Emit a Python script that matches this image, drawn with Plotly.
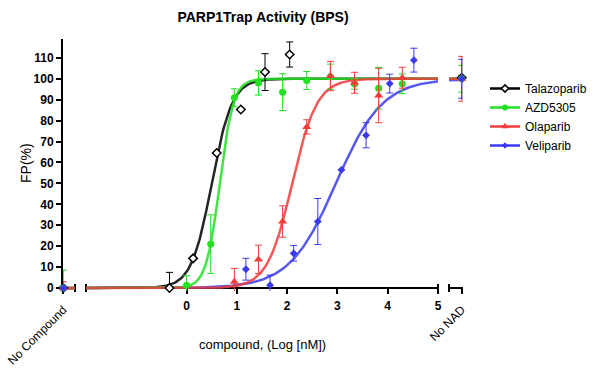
import numpy as np
import plotly.graph_objects as go

# ---------------- data ----------------
series_names = ["Talazoparib", "AZD5305", "Olaparib", "Veliparib"]

tal_x = [-0.34, 0.13, 0.60, 1.08, 1.56, 2.05]
tal_y = [0.0, 14.2, 64.5, 85.3, 103.2, 111.6]
tal_err = [7.5, 0.0, 0.0, 0.0, 8.8, 6.0]

azd_x = [0.00, 0.48, 0.95, 1.43, 1.91, 2.39, 2.86, 3.34, 3.82, 4.29]
azd_y = [1.4, 21.0, 90.9, 98.0, 93.6, 99.2, 101.0, 97.5, 95.5, 97.6]
azd_err = [4.5, 14.0, 4.3, 5.8, 8.8, 4.3, 6.0, 2.5, 10.0, 4.7]

ola_x = [0.95, 1.43, 1.91, 2.39, 2.86, 3.34, 3.82, 4.29]
ola_y = [3.0, 13.7, 31.8, 77.0, 101.3, 98.1, 92.0, 100.5]
ola_err = [6.4, 6.8, 7.5, 3.4, 7.0, 5.0, 13.0, 5.0]

vel_x = [1.18, 1.66, 2.13, 2.61, 3.08, 3.57, 4.04, 4.52]
vel_y = [9.0, 1.4, 16.6, 31.8, 56.5, 73.0, 97.7, 108.9]
vel_err = [5.2, 4.8, 3.7, 11.0, 0.0, 6.0, 4.5, 5.7]

# controls: "No Compound" and "No NAD"
no_compound_y = [0.0, 0.0, 0.0, 0.0]
no_compound_err = [0.0, 8.6, 3.0, 1.0]
no_nad_y = [100.5, 100.0, 100.0, 100.0]
no_nad_err = [1.0, 6.4, 10.7, 9.3]

# four-parameter logistic fits (logEC50, Hill slope, bottom, top)
fit_logec50 = [0.50, 0.66, 2.10, 2.97]
fit_hill = [2.15, 3.2, 1.76, 0.94]
fit_bottom = [0.0, 0.0, 0.0, 0.0]
fit_top = [100.0, 100.0, 100.0, 100.0]

x_ticks = [0, 1, 2, 3, 4, 5]
y_ticks = [0, 10, 20, 30, 40, 50, 60, 70, 80, 90, 100, 110]
NO_COMPOUND_X = -2.47
NO_NAD_X = 5.475

# ---------------- styling ----------------
colors = ["#000000", "#22e022", "#f03c3c", "#3a3af0"]
fills = ["#ffffff", "#22e022", "#f03c3c", "#3a3af0"]
symbols = ["diamond", "circle", "triangle-up", "diamond"]
msizes = [6.5, 7, 8, 6]
mline = [1.5, 0, 0, 0]
FONT = "Liberation Sans, Arial, sans-serif"

W, H = 606, 377

seg_ranges = {"x": [-2.475, -2.235], "x2": [-2.0, 5.0], "x3": [5.22, 5.50]}
seg_domains = {"x": [0.0, 0.03], "x2": [0.0575, 0.9375], "x3": [0.965, 1.0]}
YMIN, YMAX = -1.4, 119
x_axis_pos = (0 - YMIN) / (YMAX - YMIN)

pts_x = [tal_x, azd_x, ola_x, vel_x]
pts_y = [tal_y, azd_y, ola_y, vel_y]
pts_e = [tal_err, azd_err, ola_err, vel_err]

fig = go.Figure()


def logistic(x, i):
    return fit_bottom[i] + (fit_top[i] - fit_bottom[i]) / (1 + 10 ** ((fit_logec50[i] - x) * fit_hill[i]))


def marker(i, size=None):
    return dict(symbol=symbols[i], size=size or msizes[i], color=fills[i],
                line=dict(color=colors[i], width=mline[i]))


# fitted curves, drawn in every axis segment
for i in [0, 3, 1, 2]:
    for ax in ["x", "x2", "x3"]:
        xs = np.linspace(seg_ranges[ax][0], seg_ranges[ax][1], 300)
        fig.add_trace(go.Scatter(
            x=xs, y=logistic(xs, i), xaxis=ax, yaxis="y", mode="lines",
            line=dict(color=colors[i], width=2.5), opacity=0.85,
            showlegend=False, hoverinfo="skip", cliponaxis=False))

# data points with error bars
for i in range(4):
    fig.add_trace(go.Scatter(
        x=pts_x[i], y=pts_y[i], xaxis="x2", yaxis="y", mode="markers", marker=marker(i),
        error_y=dict(type="data", array=pts_e[i], color=colors[i], thickness=1, width=3.5),
        showlegend=False, cliponaxis=False))
    fig.add_trace(go.Scatter(
        x=[NO_COMPOUND_X], y=[no_compound_y[i]], xaxis="x", yaxis="y", mode="markers",
        marker=marker(i),
        error_y=dict(type="data", array=[no_compound_err[i]], color=colors[i], thickness=1, width=3.5),
        showlegend=False, cliponaxis=False))
    fig.add_trace(go.Scatter(
        x=[NO_NAD_X], y=[no_nad_y[i]], xaxis="x3", yaxis="y", mode="markers",
        marker=marker(i),
        error_y=dict(type="data", array=[no_nad_err[i]], color=colors[i], thickness=1, width=3.5),
        showlegend=False, cliponaxis=False))

# legend entries
for i in range(4):
    fig.add_trace(go.Scatter(
        x=[None], y=[None], xaxis="x2", yaxis="y", mode="lines+markers", name=series_names[i],
        line=dict(color=colors[i], width=2.5), marker=marker(i, msizes[i] - 1)))

xcommon = dict(showline=True, linecolor="black", linewidth=2, ticks="outside", ticklen=5,
               tickwidth=2, tickcolor="black", showgrid=False, zeroline=False,
               anchor="free", position=x_axis_pos, layer="below traces", automargin=False,
               ticklabeloverflow="allow")

fig.update_layout(
    width=W, height=H,
    margin=dict(l=63, r=W - 63 - 400, t=39, b=H - 39 - 252, autoexpand=False),
    paper_bgcolor="white", plot_bgcolor="white",
    font=dict(family=FONT, color="black"),
    title=dict(text="PARP1Trap Activity (BPS)", x=0.5, xref="paper", xanchor="center",
               y=1 - 17 / H, yref="container", yanchor="middle",
               font=dict(size=14, weight="bold", family=FONT, color="black")),
    xaxis=dict(domain=seg_domains["x"], range=seg_ranges["x"], tickmode="array",
               tickvals=[NO_COMPOUND_X], ticktext=["No Compound"], tickangle=-45,
               ticklabelstandoff=4, tickfont=dict(size=12, family=FONT), **xcommon),
    xaxis2=dict(domain=seg_domains["x2"], range=seg_ranges["x2"], tickmode="array",
                tickvals=x_ticks, ticktext=[str(v) for v in x_ticks], ticklabelstandoff=2,
                tickfont=dict(size=12, weight="bold", family=FONT), **xcommon),
    xaxis3=dict(domain=seg_domains["x3"], range=seg_ranges["x3"], tickmode="array",
                tickvals=[NO_NAD_X], ticktext=["No NAD"], tickangle=-45,
                ticklabelstandoff=4, tickfont=dict(size=12, family=FONT), **xcommon),
    yaxis=dict(range=[YMIN, YMAX], anchor="x", tickmode="array", tickvals=y_ticks,
               showline=True, linecolor="black", linewidth=2, ticks="outside", ticklen=5,
               tickwidth=2, tickcolor="black", showgrid=False, zeroline=False, automargin=False,
               layer="below traces", tickfont=dict(size=12, weight="bold", family=FONT)),
    legend=dict(x=485 / W, y=1 - 74 / H, xref="container", yref="container",
                xanchor="left", yanchor="top",
                font=dict(size=12, family=FONT), bgcolor="rgba(0,0,0,0)",
                itemclick=False, tracegroupgap=0),
    showlegend=True,
)

# axis-break end caps
cap_h = 4 / 252
for xp in [seg_domains["x"][1], seg_domains["x2"][0], seg_domains["x2"][1], seg_domains["x3"][0]]:
    fig.add_shape(type="line", xref="paper", yref="paper", x0=xp, x1=xp,
                  y0=x_axis_pos - cap_h, y1=x_axis_pos + cap_h,
                  line=dict(color="black", width=2), layer="below")

fig.add_annotation(text="compound, (Log [nM])", xref="paper", yref="paper",
                   x=0.4975, y=(291 - 344) / 252, xanchor="center", yanchor="middle",
                   showarrow=False, font=dict(size=13, family=FONT, color="black"))
fig.add_annotation(text="FP(%)", xref="paper", yref="paper", textangle=-90,
                   x=(26 - 63) / 400, y=(291 - 163) / 252, xanchor="center", yanchor="middle",
                   showarrow=False, font=dict(size=14, family=FONT, color="black"))

# remove the default 8px page margin so the figure sits at the window origin
fig.write_html("out.html", config={"displayModeBar": False},
               post_script="document.body.style.margin='0px';")
